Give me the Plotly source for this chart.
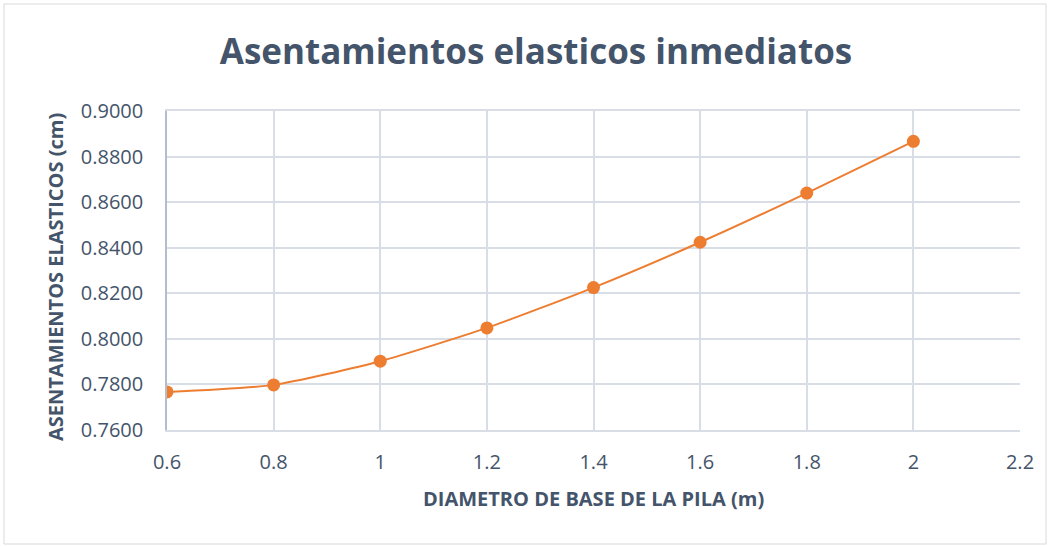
import plotly.graph_objects as go

diametro = [0.6, 0.8, 1.0, 1.2, 1.4, 1.6, 1.8, 2.0]
asentamiento = [0.7767, 0.7798, 0.7902, 0.8048, 0.8225, 0.8424, 0.8640, 0.8867]

W, H = 1050, 546
ml, mr, mt, mb = 167, 30, 111, 116
pw, ph = W - ml - mr, H - mt - mb

font_family = "'Open Sans', sans-serif"
text_color = "#44546A"
grid_color = "#D9DEE6"

fig = go.Figure()
fig.add_trace(go.Scatter(
    x=diametro, y=asentamiento,
    mode="lines+markers",
    line=dict(color="#ED7D31", width=2, shape="spline", smoothing=0.6),
    marker=dict(color="#ED7D31", size=13),
    showlegend=False,
))

def px_x(p):
    return (p - ml) / pw

def px_y(p):
    return (H - mb - p) / ph

fig.add_shape(type="rect", xref="paper", yref="paper",
              x0=px_x(4), x1=px_x(1046), y0=px_y(544), y1=px_y(4),
              line=dict(color="#D9D9D9", width=1), layer="below")

fig.add_annotation(text="<b>DIAMETRO DE BASE DE LA PILA (m)</b>",
                   xref="paper", yref="paper", x=px_x(593), y=px_y(498),
                   xanchor="center", yanchor="middle", showarrow=False,
                   font=dict(size=20, color=text_color, family=font_family))
fig.add_annotation(text="<b>ASENTAMIENTOS ELASTICOS (cm)</b>",
                   xref="paper", yref="paper", x=px_x(55), y=px_y(277),
                   xanchor="center", yanchor="middle", showarrow=False, textangle=-90,
                   font=dict(size=20, color=text_color, family=font_family))

fig.update_layout(
    width=W, height=H,
    margin=dict(l=ml, r=mr, t=mt, b=mb),
    paper_bgcolor="white", plot_bgcolor="white",
    font=dict(family=font_family, color=text_color),
    title=dict(text="<b>Asentamientos elasticos inmediatos</b>",
               x=(536 / W), xanchor="center", y=1 - 52 / H, yanchor="middle",
               font=dict(size=35, color=text_color, family=font_family)),
    xaxis=dict(range=[0.6, 2.2], dtick=0.2, tick0=0.6,
               showgrid=True, gridcolor=grid_color, gridwidth=1.5,
               showline=True, linecolor=grid_color, linewidth=1.5, mirror=True,
               zeroline=False, ticks="", ticklen=0, ticklabelstandoff=13,
               tickfont=dict(size=20, color=text_color)),
    yaxis=dict(range=[0.76, 0.90], dtick=0.02, tick0=0.76, tickformat=".4f",
               showgrid=True, gridcolor=grid_color, gridwidth=1.5,
               showline=True, linecolor="#B4BDCC", linewidth=1.5, mirror=False,
               zeroline=False, ticks="", ticklen=0, ticklabelstandoff=18,
               tickfont=dict(size=20, color=text_color)),
)

fig.write_html("out.html")
